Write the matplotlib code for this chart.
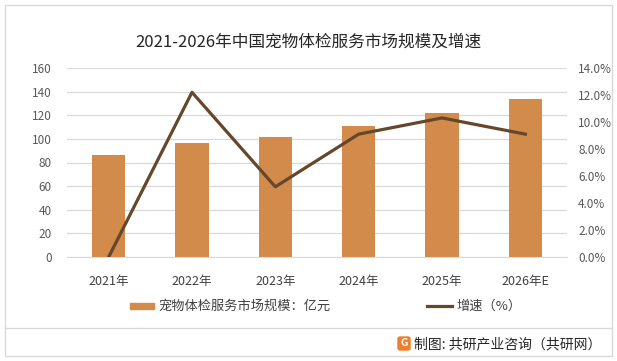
import matplotlib
matplotlib.use("Agg")
import matplotlib.pyplot as plt
from matplotlib.patches import Rectangle, FancyBboxPatch
from matplotlib.lines import Line2D

plt.rcParams['font.family'] = ['Noto Sans CJK SC', 'DejaVu Sans']

categories = ['2021年', '2022年', '2023年', '2024年', '2025年', '2026年E']
market_size = [86.0, 96.5, 101.5, 110.8, 122.3, 133.4]
growth = [0.0, 12.2, 5.2, 9.1, 10.3, 9.1]
left_ticks = [0, 20, 40, 60, 80, 100, 120, 140, 160]
right_ticks = [0, 2, 4, 6, 8, 10, 12, 14]

bar_color = '#D38B4C'
line_color = '#65472C'
text_color = '#595959'

W, H = 617, 361
fig = plt.figure(figsize=(W / 100, H / 100), dpi=100)

# outer frame
fig.patches.append(Rectangle((5 / W, 1 - 356 / H), 607 / W, 351 / H, transform=fig.transFigure,
                             fill=False, edgecolor='#D9D9D9', linewidth=1))

ax = fig.add_axes([67 / W, 1 - 257 / H, 500 / W, 189 / H])
x = range(len(categories))
ax.bar(x, market_size, width=0.4, color=bar_color, zorder=2)
ax.set_xlim(-0.5, len(categories) - 0.5)
ax.set_ylim(0, 160)
ax.set_yticks(left_ticks)
ax.set_xticks(list(x))
ax.set_xticklabels(categories)
ax.grid(axis='y', color='#D9D9D9', linewidth=0.9, zorder=0)
for s in ax.spines.values():
    s.set_visible(False)
ax.spines['bottom'].set_visible(True)
ax.spines['bottom'].set_color('#D9D9D9')
ax.tick_params(axis='y', length=0, labelsize=8.5, colors=text_color, pad=11)
ax.tick_params(axis='x', length=0, labelsize=9, colors='#404040', pad=13)
ax.set_axisbelow(True)

ax2 = ax.twinx()
ax2.plot(list(x), growth, color=line_color, linewidth=2.3, zorder=3)
ax2.set_ylim(0, 14)
ax2.set_yticks(right_ticks)
ax2.set_yticklabels([f'{v:.1f}%' for v in right_ticks])
for s in ax2.spines.values():
    s.set_visible(False)
ax2.tick_params(axis='y', length=0, labelsize=8.5, colors=text_color, pad=8)

fig.text(0.5, 1 - 42 / H, '2021-2026年中国宠物体检服务市场规模及增速', ha='center', va='center',
         fontsize=12, color='#262626')

# legend
fig.patches.append(Rectangle((130 / W, 1 - 309 / H), 24 / W, 6 / H, transform=fig.transFigure,
                             color=bar_color))
fig.text(158 / W, 1 - 306 / H, '宠物体检服务市场规模：亿元', ha='left', va='center', fontsize=9.5, color='#404040')
fig.lines.append(Line2D([427 / W, 452 / W], [1 - 306 / H, 1 - 306 / H], transform=fig.transFigure,
                        color=line_color, linewidth=2.3))
fig.text(456 / W, 1 - 306 / H, '增速（%）', ha='left', va='center', fontsize=9.5, color='#404040')

# separator & footer
fig.lines.append(Line2D([5 / W, 612 / W], [1 - 328 / H, 1 - 328 / H], transform=fig.transFigure,
                        color='#D9D9D9', linewidth=1))
fig.patches.append(FancyBboxPatch((398 / W, 1 - 350 / H), 12 / W, 13 / H, transform=fig.transFigure,
                                  boxstyle='round,pad=0.0,rounding_size=0.004', color='#F07F2A'))
fig.text(404 / W, 1 - 343.5 / H, 'G', ha='center', va='center', fontsize=7.5, color='white', fontweight='bold')
fig.text(414 / W, 1 - 344 / H, '制图: 共研产业咨询（共研网）', ha='left', va='center', fontsize=10, color='#262626')

fig.savefig('out.png', dpi=100)
